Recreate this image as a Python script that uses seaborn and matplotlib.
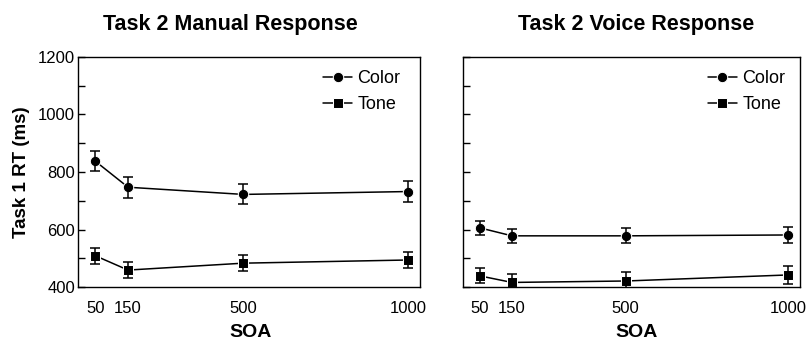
import matplotlib
matplotlib.use("Agg")
import matplotlib.pyplot as plt
import seaborn as sns
import pandas as pd
from matplotlib.ticker import MultipleLocator

# SOA values (ms)
soa = [50, 150, 500, 1000]

# Task 2 manual response
manual_color = [838, 747, 722, 732]
manual_color_se = [35, 36, 35, 35]
manual_tone = [509, 459, 483, 494]
manual_tone_se = [28, 27, 27, 29]

# Task 2 voice response
voice_color = [606, 578, 578, 581]
voice_color_se = [25, 25, 26, 27]
voice_tone = [439, 416, 421, 442]
voice_tone_se = [26, 29, 30, 30]

panels = [
    ("Task 2 Manual Response", manual_color, manual_color_se, manual_tone, manual_tone_se),
    ("Task 2 Voice Response", voice_color, voice_color_se, voice_tone, voice_tone_se),
]

sns.set_style("white")
plt.rcParams["font.family"] = ["Liberation Sans", "DejaVu Sans"]
plt.rcParams["axes.edgecolor"] = "black"
plt.rcParams["text.color"] = "black"
plt.rcParams["axes.labelcolor"] = "black"
plt.rcParams["xtick.color"] = "black"
plt.rcParams["ytick.color"] = "black"

fig = plt.figure(figsize=(8.06, 3.45), dpi=100)
ax_pos = [[0.0968, 0.168, 0.424, 0.667], [0.574, 0.168, 0.418, 0.667]]
title_x = [0.286, 0.789]
soa_x = [0.311, 0.790]
legend_x = [0.975, 0.99]

for idx, (title, col, col_se, tone, tone_se) in enumerate(panels):
    ax = fig.add_axes(ax_pos[idx])
    df = pd.DataFrame({
        "SOA": soa * 2,
        "RT": col + tone,
        "Task": ["Color"] * 4 + ["Tone"] * 4,
    })
    sns.lineplot(
        data=df, x="SOA", y="RT", style="Task",
        markers={"Color": "o", "Tone": "s"}, dashes=False,
        color="black", linewidth=1.1, markersize=7.5,
        ax=ax,
    )
    ax.errorbar(soa, col, yerr=col_se, fmt="none", ecolor="black",
                elinewidth=1.1, capsize=3.5, capthick=1.1)
    ax.errorbar(soa, tone, yerr=tone_se, fmt="none", ecolor="black",
                elinewidth=1.1, capsize=3.5, capthick=1.1)

    ax.set_xlim(-2, 1036)
    ax.set_ylim(400, 1200)
    ax.set_xticks(soa)
    ax.set_xticklabels([str(s) for s in soa])
    ax.yaxis.set_major_locator(MultipleLocator(200))
    ax.yaxis.set_minor_locator(MultipleLocator(100))
    ax.tick_params(axis="x", length=0, pad=10, labelsize=12)
    ax.tick_params(axis="y", which="both", direction="in", length=5,
                   width=1, left=True, labelsize=12, pad=2)
    if idx == 1:
        ax.tick_params(axis="y", labelleft=False)
        ax.set_ylabel(None)
    else:
        ax.set_ylabel("Task 1 RT (ms)", fontsize=13.5, fontweight="bold", labelpad=6)
    ax.set_xlabel(None)
    for sp in ax.spines.values():
        sp.set_linewidth(1.0)

    h, l = ax.get_legend_handles_labels()
    ax.legend(h, l, loc="upper right", bbox_to_anchor=(legend_x[idx], 0.99), frameon=False,
              fontsize=13, handlelength=1.6, handletextpad=0.3,
              labelspacing=0.5, borderaxespad=0.2)

    fig.text(title_x[idx], 0.93, title, ha="center", va="center",
             fontsize=15.5, fontweight="bold")
    fig.text(soa_x[idx], 0.035, "SOA", ha="center", va="center",
             fontsize=14, fontweight="bold")

fig.savefig("out.png", dpi=100)
